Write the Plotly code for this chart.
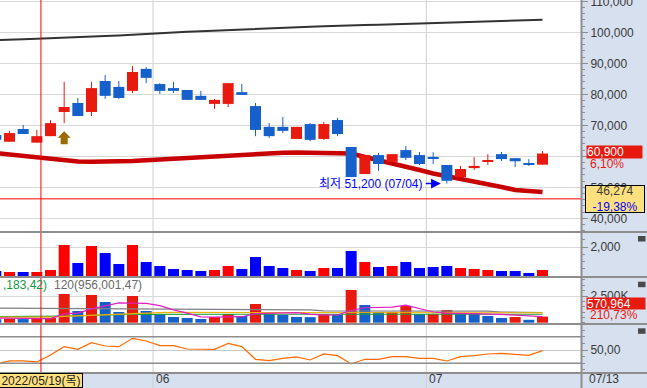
import plotly.graph_objects as go

# ---------------- data ----------------
dates = ["05/16", "05/17", "05/18", "05/19", "05/20", "05/23", "05/24", "05/25", "05/26", "05/27",
         "05/30", "05/31",
         "06/02", "06/03", "06/07", "06/08", "06/09", "06/10", "06/13", "06/14", "06/15", "06/16",
         "06/17", "06/20", "06/21", "06/22", "06/23", "06/24", "06/27", "06/28", "06/29", "06/30",
         "07/01", "07/04", "07/05", "07/06", "07/07", "07/08", "07/11", "07/12", "07/13"]

opens = [66900, 64700, 68800, 64400, 66500, 74300, 77200, 74300, 84300, 82400, 81100, 88200,
         83300, 82000, 81400, 79500, 76900, 76900, 80700, 76200, 69500, 69500, 65600, 70400,
         65600, 71700, 63000, 54300, 60400, 58200, 62000, 60400,
         59800, 57200, 53300, 56200, 58200, 60700, 59400, 57800, 57300]
highs = [67000, 68200, 70100, 68500, 71700, 84000, 78800, 84000, 86200, 84300, 89100, 88800,
         83600, 84000, 81400, 81100, 78500, 83600, 83300, 77200, 70700, 72700, 69500, 70700,
         71100, 72400, 63000, 60400, 61100, 60700, 63300, 61400,
         61300, 57200, 56900, 59700, 60700, 61400, 59400, 59100, 61700]
lows = [65200, 64700, 67200, 64400, 66500, 70700, 73000, 73000, 78500, 78500, 80400, 83600,
        80100, 80400, 78200, 78200, 75300, 75900, 79800, 66500, 65900, 67500, 65600, 64900,
        65300, 66500, 53300, 54300, 55300, 58200, 58800, 57200,
        57500, 51200, 53300, 55600, 57200, 58500, 56500, 56900, 57300]
closes = [65300, 67500, 67200, 66500, 70700, 75900, 73000, 82000, 79500, 78800, 87200, 85300,
          81100, 81100, 78200, 78200, 78200, 83600, 79800, 68500, 66500, 68200, 69500, 65300,
          70400, 67200, 53300, 60400, 57500, 60700, 59500, 57500,
          59400, 52100, 55900, 56900, 58800, 59100, 58400, 57400, 60900]

ma_long = [97450, 97520, 97740, 97940, 98070, 98260, 98320, 98580, 98810, 98970, 99230, 99550,
           99770, 100000, 100190, 100320, 100520, 100740, 100970, 101160, 101390, 101480, 101610,
           101810, 101940, 102130, 102260, 102350, 102450, 102580, 102680, 102900,
           103000, 103160, 103230, 103320, 103420, 103550, 103710, 103810, 104060]
ma_mid = [61070, 60580, 60000, 59450, 58970, 58650, 58320, 58230, 58230, 58320, 58480, 58710,
          58970, 59230, 59450, 59770, 60030, 60320, 60580, 60900, 61070, 61160, 61230, 61230,
          61230, 61070, 60900, 59770, 58810, 57840, 56550, 55580,
          54450, 53650, 52840, 52030, 51070, 50100, 49130, 48650, 48480]

support_level = 46274
signal_dates = ["05/23"]
cursor_date = "05/19"
cursor_label = "2022/05/19(목)"

trade_value = [345, 276, 276, 276, 414, 2138, 897, 2069, 1586, 828, 2138, 966,
               690, 483, 414, 345, 414, 690, 483, 1310, 690, 552, 414, 345, 552, 552, 1724, 966,
               621, 690, 966, 552,
               621, 690, 552, 483, 414, 345, 345, 207, 414]

volume = [330000, 350000, 340000, 360000, 440000, 2690000, 1095000, 2595000, 1940000, 1000000,
          2500000, 1095000,
          815000, 535000, 440000, 350000, 535000, 815000, 630000, 1750000, 815000, 720000, 540000,
          520000, 800000, 780000, 3060000, 1660000, 1000000, 1010000, 1560000, 815000,
          830000, 1190000, 910000, 900000, 630000, 440000, 530000, 270943, 570964]
vol_ma5 = [430000, 420000, 400000, 380000, 380000, 830000, 900000, 1300000, 1560000, 1860000,
           1830000, 1800000,
           1600000, 1200000, 900000, 550000, 520000, 560000, 560000, 850000, 900000, 950000,
           950000, 800000, 700000, 720000, 1150000, 1400000, 1450000, 1450000, 1650000, 1300000,
           1000000, 900000, 880000, 850000, 800000, 780000, 700000, 600000, 560000]
vol_ma20 = [520000, 520000, 510000, 510000, 520000, 600000, 650000, 720000, 800000, 850000,
            900000, 930000,
            950000, 960000, 960000, 960000, 970000, 980000, 980000, 990000, 990000, 990000,
            980000, 960000, 950000, 950000, 990000, 1000000, 990000, 980000, 980000, 970000,
            970000, 970000, 960000, 950000, 950000, 950000, 940000, 930000, 920000]
vol_ma60 = [560000, 560000, 560000, 560000, 570000, 620000, 650000, 700000, 730000, 760000,
            780000, 790000,
            790000, 790000, 790000, 790000, 790000, 790000, 790000, 790000, 790000, 790000,
            790000, 790000, 790000, 790000, 790000, 790000, 790000, 790000, 790000, 790000,
            790000, 790000, 790000, 790000, 790000, 790000, 790000, 790000, 790000]
vol_ma120 = [1376000, 1370000, 1365000, 1360000, 1355000, 1300000, 1290000, 1280000, 1270000,
             1262000, 1256000, 1255000,
             1250000, 1245000, 1240000, 1235000, 1230000, 1225000, 1220000, 1215000, 1210000,
             1205000, 1200000, 1195000, 1100000, 1098000, 1096000, 1094000, 1092000, 1090000,
             1088000, 1086000,
             1084000, 1082000, 1080000, 1078000, 1076000, 1000000, 980000, 965000, 956001]

osc = [29, 33.5, 33.5, 32, 42.5, 55, 51, 61, 56, 55, 67.5, 63.5,
       56.5, 56.5, 51.5, 51, 51, 60, 55, 36, 34, 37.5, 39.5, 35, 44, 41.5, 29, 36,
       36, 40, 40, 37.5,
       37.5, 33.5, 40, 41.5, 44, 45, 43.5, 42, 49]

# ---------------- styling ----------------
W, H = 647, 388
MR, MB = 66, 15
PW, PH = W - MR, H - MB
FONT = "Liberation Sans, Arial, Noto Sans CJK KR, sans-serif"
RED, BLUE = "#e8190f", "#1660cc"
AX_BG = "#d6e0ee"
BORDER = "#8e8e8e"
GRID = "#d9d9d9"


def fy(px):
    return (PH - px) / PH


def fx(px):
    return px / PW


x = list(range(len(dates)))
up = [c >= o for o, c in zip(opens, closes)]

fig = go.Figure()

# main panel moving averages (beneath the candles)
fig.add_trace(go.Scatter(x=x, y=ma_long, mode="lines", line=dict(color="#333333", width=2),
                         xaxis="x", yaxis="y", hoverinfo="skip"))
fig.add_trace(go.Scatter(x=x, y=ma_mid, mode="lines", line=dict(color="#c80000", width=4.5),
                         xaxis="x", yaxis="y", hoverinfo="skip"))

# candles on overlay axis so they sit above the MAs
for flag, col in ((True, RED), (False, BLUE)):
    wx, wy = [], []
    for i in x:
        if up[i] == flag:
            wx += [i, i, None]
            wy += [lows[i], highs[i], None]
    fig.add_trace(go.Scatter(x=wx, y=wy, mode="lines", line=dict(color=col, width=1),
                             xaxis="x", yaxis="y5", hoverinfo="skip"))
fig.add_trace(go.Bar(x=x, base=[min(o, c) for o, c in zip(opens, closes)],
                     y=[max(abs(c - o), 280) for o, c in zip(opens, closes)],
                     width=0.805, marker=dict(color=[RED if u else BLUE for u in up], line_width=0),
                     xaxis="x", yaxis="y5", hoverinfo="skip"))

# trading value panel
fig.add_trace(go.Bar(x=x, y=trade_value, width=0.805,
                     marker=dict(color=["#ff0000" if u else "#0000ff" for u in up], line_width=0),
                     xaxis="x", yaxis="y2", hoverinfo="skip"))

# volume panel
vcol = [BLUE] + [RED if volume[i] > volume[i - 1] else BLUE for i in range(1, len(volume))]
fig.add_trace(go.Bar(x=x, y=volume, width=0.805, marker=dict(color=vcol, line_width=0),
                     xaxis="x", yaxis="y3", hoverinfo="skip"))
for ser, col in ((vol_ma120, "#808080"), (vol_ma60, "#18a040"), (vol_ma20, "#f0b000"),
                 (vol_ma5, "#e020c0")):
    fig.add_trace(go.Scatter(x=x, y=ser, mode="lines", line=dict(color=col, width=1.2),
                             xaxis="x", yaxis="y3", hoverinfo="skip"))

# oscillator panel
fig.add_trace(go.Scatter(x=x, y=osc, mode="lines", line=dict(color="#ff6a00", width=1.2),
                         xaxis="x", yaxis="y4", hoverinfo="skip"))

# ---------------- axes ----------------
main_range = [35581, 110419]
tick_common = dict(side="right", ticks="outside", ticklen=6, tickwidth=1, tickcolor=BORDER,
                   tickfont=dict(family=FONT, size=12, color="#3a3a3a"), showline=False,
                   zeroline=False, anchor="x", fixedrange=True, gridcolor=GRID, gridwidth=1,
                   ticklabeloverflow="allow", automargin=False)
main_ticks = list(range(40000, 110001, 10000))
main_text = ["" if v == 60000 else f"{v:,}" for v in main_ticks]

fig.update_layout(
    width=W, height=H, margin=dict(l=0, r=MR, t=0, b=MB, pad=0, autoexpand=False),
    paper_bgcolor="white", plot_bgcolor="white", showlegend=False, barmode="overlay",
    font=dict(family=FONT, size=12, color="#3a3a3a"),
    xaxis=dict(range=[0.305, 42.817], visible=False, fixedrange=True, automargin=False),
    yaxis=dict(domain=[fy(232), 1], range=main_range, tickvals=main_ticks, ticktext=main_text,
               showgrid=True,
               minor=dict(tickmode="linear", tick0=0, dtick=2000, ticks="outside", ticklen=3,
                          tickcolor=BORDER, showgrid=False), **tick_common),
    yaxis5=dict(overlaying="y", range=main_range, visible=False, fixedrange=True, anchor="x"),
    yaxis2=dict(domain=[fy(277), fy(232)], range=[-69, 3034], tickvals=[2000],
                ticktext=["2,000"], showgrid=True,
                minor=dict(tickmode="linear", tick0=0, dtick=500, ticks="outside", ticklen=3,
                           tickcolor=BORDER, showgrid=False), **tick_common),
    yaxis3=dict(domain=[fy(324), fy(277)], range=[-122000, 4279000], tickvals=[2500000],
                ticktext=["2,500K"], showgrid=True,
                minor=dict(tickmode="linear", tick0=0, dtick=500000, ticks="outside", ticklen=3,
                           tickcolor=BORDER, showgrid=False), **tick_common),
    yaxis4=dict(domain=[0, fy(324)], range=[15.4, 89.1], tickvals=[50], ticktext=["50,00"],
                showgrid=True, gridcolor="#c8c8c8",
                minor=dict(tickmode="linear", tick0=0, dtick=10, ticks="outside", ticklen=3,
                           tickcolor=BORDER, showgrid=False),
                **{k: v for k, v in tick_common.items() if k != "gridcolor"}),
)

# ---------------- shapes ----------------
shapes = []
right_edge = W / PW
bottom = -MB / PH
shapes.append(dict(type="rect", xref="paper", yref="paper", x0=1, x1=right_edge, y0=bottom, y1=1,
                   fillcolor=AX_BG, line_width=0, layer="below"))
shapes.append(dict(type="rect", xref="paper", yref="paper", x0=0, x1=1, y0=bottom, y1=0,
                   fillcolor=AX_BG, line_width=0, layer="below"))
# month separators
for i in range(1, len(dates)):
    if dates[i][:2] != dates[i - 1][:2]:
        shapes.append(dict(type="line", xref="x", yref="paper", x0=i - 0.5, x1=i - 0.5,
                           y0=bottom, y1=1, line=dict(color="#cfcfcf", width=1), layer="below"))
# oscillator reference levels
for lv in (30, 70):
    shapes.append(dict(type="line", xref="paper", yref="y4", x0=0, x1=1, y0=lv, y1=lv,
                       line=dict(color=BORDER, width=1.5)))
# support line
shapes.append(dict(type="line", xref="paper", yref="y", x0=0, x1=1, y0=support_level,
                   y1=support_level, line=dict(color="#ff0000", width=1)))
# cursor line
ci = dates.index(cursor_date) + 0.3
shapes.append(dict(type="line", xref="x", yref="paper", x0=ci, x1=ci, y0=0, y1=1,
                   line=dict(color="#ff0000", width=1)))
# panel separators
for py in (232, 277, 324, 373):
    shapes.append(dict(type="line", xref="paper", yref="paper", x0=0, x1=right_edge,
                       y0=fy(py), y1=fy(py), line=dict(color=BORDER, width=2)))
# axis border
shapes.append(dict(type="line", xref="paper", yref="paper", x0=fx(581.5), x1=fx(581.5),
                   y0=bottom, y1=1, line=dict(color=BORDER, width=2)))
# close buttons
for top in (236, 281.7, 328.3):
    shapes.append(dict(type="rect", xref="paper", yref="paper", x0=fx(638), x1=fx(645.5),
                       y0=fy(top + 5.5), y1=fy(top), fillcolor="#4a4a4a", line_width=0))
# buy signal arrow
for d in signal_dates:
    i = dates.index(d)
    shapes.append(dict(type="path", xref="x", yref="y", xsizemode="pixel", ysizemode="pixel",
                       xanchor=i, yanchor=lows[i],
                       path="M0,-8 L6.5,-14.5 L3.5,-14.5 L3.5,-21 L-3.5,-21 L-3.5,-14.5 L-6.5,-14.5 Z",
                       fillcolor="#9c6a00", line_width=0))
fig.update_layout(shapes=shapes)

# ---------------- annotations ----------------
ann = []
imin = min(x, key=lambda i: lows[i])
ann.append(dict(x=imin, y=lows[imin], xref="x", yref="y", text=f"최저 {lows[imin]:,} ({dates[imin]})",
                showarrow=True, ax=-21, ay=0, standoff=6, arrowhead=2, arrowsize=1.3,
                arrowwidth=1.5, arrowcolor="#0000ff", xanchor="right", yanchor="middle",
                borderpad=3, font=dict(family=FONT, size=12, color="#0000ff")))
prev = closes[-2]
last = closes[-1]
ann.append(dict(x=1, y=last, xref="paper", yref="y", xanchor="left", yanchor="middle", xshift=5,
                yshift=2, text=f"{last:,}", showarrow=False, bgcolor=RED, width=55, height=12,
                borderpad=0, align="left", font=dict(family=FONT, size=12, color="white")))
ann.append(dict(x=1, y=last, xref="paper", yref="y", xanchor="left", yanchor="middle", xshift=7,
                yshift=-10, text=f"{(last / prev - 1) * 100:.2f}%".replace(".", ","),
                showarrow=False, font=dict(family=FONT, size=12, color=RED)))
ann.append(dict(x=1, y=support_level, xref="paper", yref="y", xanchor="left", yanchor="middle",
                xshift=4,
                text=f"{support_level:,}<br><span style='color:#0000ff'>"
                     f"{(support_level / prev - 1) * 100:.2f}%".replace(".", ",") + "</span>",
                showarrow=False, bgcolor="#ffe07e", bordercolor="#000000", borderwidth=1,
                borderpad=0, width=58, height=26, font=dict(family=FONT, size=12, color="#3a3a3a")))
ann.append(dict(x=1, y=fy(303.2), xref="paper", yref="paper", xanchor="left", yanchor="middle",
                xshift=5, text=f"{volume[-1]:,}", showarrow=False, bgcolor=RED, width=58,
                height=11, borderpad=0, align="left",
                font=dict(family=FONT, size=12, color="white")))
ann.append(dict(x=1, y=fy(315), xref="paper", yref="paper", xanchor="left", yanchor="middle",
                xshift=7, text=f"{volume[-1] / volume[-2] * 100:.2f}%".replace(".", ","),
                showarrow=False, font=dict(family=FONT, size=12, color=RED)))
ann.append(dict(x=0, y=fy(285), xref="paper", yref="paper", xanchor="left", yanchor="middle",
                xshift=1, text=",183,42)", showarrow=False,
                font=dict(family=FONT, size=12, color="#109a40")))
ann.append(dict(x=fx(52), y=fy(285), xref="paper", yref="paper", xanchor="left",
                yanchor="middle", text=f"120({vol_ma120[-1]:,},47)", showarrow=False,
                font=dict(family=FONT, size=12, color="#6a6a6a")))
for i in range(1, len(dates)):
    if dates[i][:2] != dates[i - 1][:2]:
        ann.append(dict(x=i - 0.5, y=bottom, xref="x", yref="paper", xanchor="left",
                        yanchor="bottom", xshift=1, text=dates[i][:2], showarrow=False,
                        font=dict(family=FONT, size=12, color="#3a3a3a")))
ann.append(dict(x=1, y=bottom, xref="paper", yref="paper", xanchor="left", yanchor="bottom",
                xshift=6, text=dates[-1], showarrow=False,
                font=dict(family=FONT, size=12, color="#3a3a3a")))
ann.append(dict(x=ci, y=bottom, xref="x", yref="paper", xanchor="center", yanchor="bottom",
                text=cursor_label, showarrow=False, bgcolor="#ffe07e", bordercolor="#000000",
                borderwidth=1, borderpad=0, width=82, height=13,
                font=dict(family=FONT, size=12, color="#222222")))
fig.update_layout(annotations=ann)

fig.write_html("out.html", config={"displayModeBar": False},
               post_script="document.body.style.margin='0';document.body.style.padding='0';")
